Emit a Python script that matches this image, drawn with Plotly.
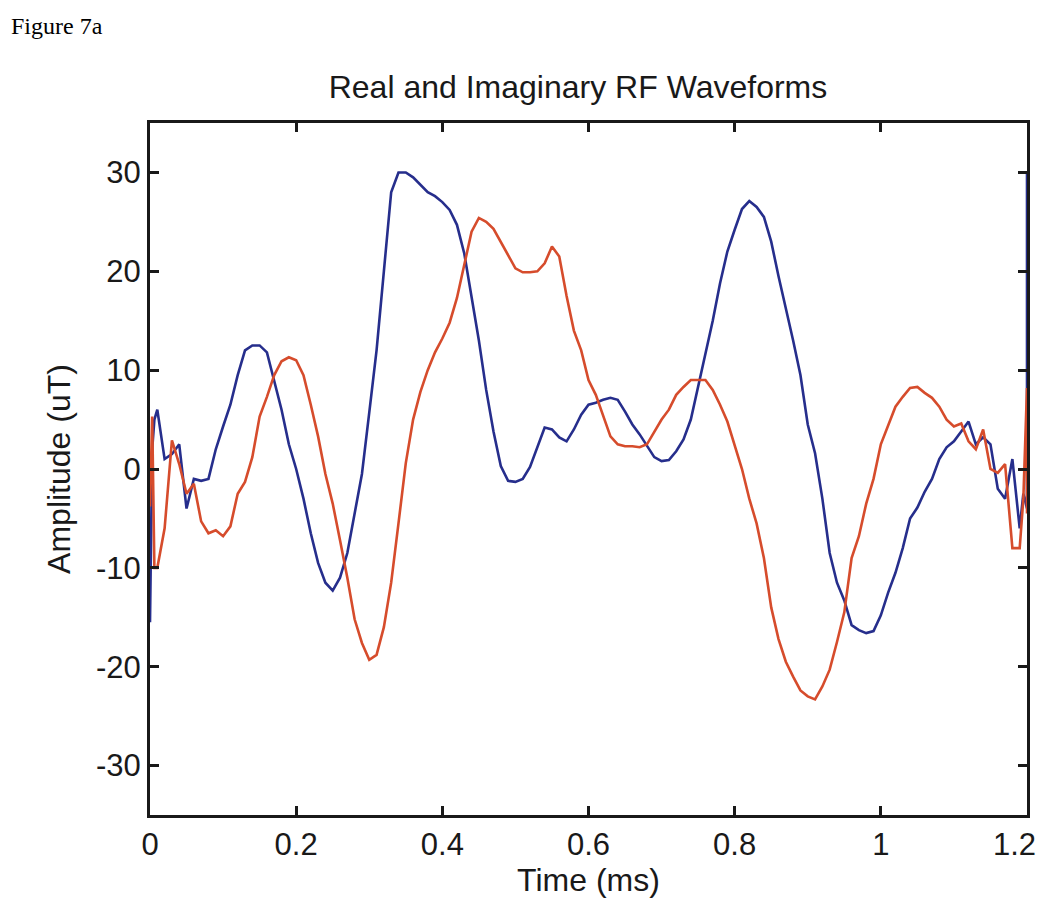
import plotly.graph_objects as go

# time base (ms), with a few extra points at the edges where the traces spike
time_ms = [0.0, 0.003, 0.006, 0.01, 0.02, 0.03, 0.04, 0.05, 0.06, 0.07, 0.08, 0.09,
           0.10, 0.11, 0.12, 0.13, 0.14, 0.15, 0.16, 0.17, 0.18, 0.19,
           0.20, 0.21, 0.22, 0.23, 0.24, 0.25, 0.26, 0.27, 0.28, 0.29,
           0.30, 0.31, 0.32, 0.33, 0.34, 0.35, 0.36, 0.37, 0.38, 0.39,
           0.40, 0.41, 0.42, 0.43, 0.44, 0.45, 0.46, 0.47, 0.48, 0.49,
           0.50, 0.51, 0.52, 0.53, 0.54, 0.55, 0.56, 0.57, 0.58, 0.59,
           0.60, 0.61, 0.62, 0.63, 0.64, 0.65, 0.66, 0.67, 0.68, 0.69,
           0.70, 0.71, 0.72, 0.73, 0.74, 0.75, 0.76, 0.77, 0.78, 0.79,
           0.80, 0.81, 0.82, 0.83, 0.84, 0.85, 0.86, 0.87, 0.88, 0.89,
           0.90, 0.91, 0.92, 0.93, 0.94, 0.95, 0.96, 0.97, 0.98, 0.99,
           1.00, 1.01, 1.02, 1.03, 1.04, 1.05, 1.06, 1.07, 1.08, 1.09,
           1.10, 1.11, 1.12, 1.13, 1.14, 1.15, 1.16, 1.17, 1.18, 1.19,
           1.195, 1.2, 1.2]

# real part (blue), uT
real_ut = [-15.5, 2.0, 5.0, 6.0, 1.0, 1.5, 2.5, -4.0, -1.0, -1.2, -1.0, 2.0,
           4.3, 6.5, 9.5, 12.0, 12.5, 12.5, 11.8, 9.0, 6.0, 2.5,
           0.0, -3.0, -6.5, -9.5, -11.5, -12.3, -11.0, -8.5, -4.5, -0.5,
           5.7, 12.0, 20.0, 28.0, 30.0, 30.0, 29.5, 28.8, 28.0, 27.6,
           27.0, 26.2, 24.7, 21.8, 17.3, 13.0, 8.0, 3.8, 0.3, -1.2,
           -1.3, -1.0, 0.2, 2.2, 4.2, 4.0, 3.2, 2.8, 4.0, 5.5,
           6.5, 6.7, 7.0, 7.2, 7.0, 5.8, 4.5, 3.5, 2.3, 1.2,
           0.8, 0.9, 1.8, 3.0, 5.0, 8.3, 11.4, 15.0, 18.8, 22.0,
           24.2, 26.3, 27.1, 26.5, 25.5, 23.0, 19.5, 16.3, 13.0, 9.5,
           4.5, 1.6, -3.0, -8.5, -11.5, -13.3, -15.8, -16.3, -16.6, -16.4,
           -14.8, -12.5, -10.5, -8.0, -5.0, -3.9, -2.3, -1.0, 1.0, 2.2,
           2.8, 3.8, 4.8, 2.5, 3.2, 2.5, -2.0, -3.0, 1.0, -6.0,
           -2.5, -4.0, 30.0]

# imaginary part (red), uT
imag_ut = [-3.8, 5.3, -10.0, -10.0, -6.0, 2.9, 0.5, -2.5, -1.5, -5.3, -6.5, -6.2,
           -6.8, -5.8, -2.5, -1.3, 1.2, 5.3, 7.3, 9.5, 10.9, 11.3,
           11.0, 9.5, 6.5, 3.3, -0.5, -3.5, -7.2, -11.0, -15.2, -17.6,
           -19.3, -18.8, -16.0, -11.5, -5.5, 0.6, 5.0, 7.8, 10.0, 11.8,
           13.2, 14.8, 17.3, 20.5, 24.0, 25.4, 25.0, 24.3, 23.0, 21.6,
           20.3, 19.9, 19.9, 20.0, 20.8, 22.5, 21.5, 17.5, 14.0, 12.0,
           9.0, 7.5, 5.5, 3.3, 2.5, 2.3, 2.3, 2.2, 2.5, 3.8,
           5.0, 6.0, 7.5, 8.3, 9.0, 9.0, 9.0, 8.0, 6.5, 4.8,
           2.3, 0.0, -3.0, -5.5, -9.0, -14.0, -17.2, -19.5, -21.0, -22.4,
           -23.0, -23.3, -22.0, -20.3, -17.5, -14.5, -9.0, -6.8, -3.5, -1.0,
           2.5, 4.5, 6.3, 7.3, 8.2, 8.3, 7.7, 7.2, 6.3, 5.0,
           4.3, 4.6, 2.8, 2.0, 4.0, 0.0, -0.4, 0.5, -8.0, -8.0,
           -3.0, 8.2, -4.5]

x_ticks = [0, 0.2, 0.4, 0.6, 0.8, 1, 1.2]
x_labels = ["0", "0.2", "0.4", "0.6", "0.8", "1", "1.2"]
y_ticks = [-30, -20, -10, 0, 10, 20, 30]
y_labels = ["-30", "-20", "-10", "0", "10", "20", "30"]

font = "Liberation Sans, Arial, Helvetica, sans-serif"
ink = "rgb(25,25,25)"

fig = go.Figure()
fig.add_trace(go.Scatter(x=time_ms, y=real_ut, mode="lines",
                         line=dict(color="rgb(38,46,140)", width=2.6)))
fig.add_trace(go.Scatter(x=time_ms, y=imag_ut, mode="lines",
                         line=dict(color="rgb(214,76,44)", width=2.6)))

axis_style = dict(showline=True, linecolor=ink, linewidth=3, mirror="allticks",
                  ticks="inside", ticklen=9, tickwidth=3, tickcolor=ink,
                  showgrid=False, zeroline=False,
                  tickfont=dict(family=font, size=31, color=ink))

# the last x label would run past the page edge, so it is drawn as a note pinned to the right
fig.update_xaxes(range=[0, 1.2], tickvals=x_ticks, ticktext=x_labels[:-1] + [""],
                 title=dict(text="Time (ms)", font=dict(family=font, size=32, color=ink),
                            standoff=6),
                 **axis_style)
fig.update_yaxes(range=[-35, 35], tickvals=y_ticks, ticktext=y_labels,
                 title=dict(text="Amplitude (uT)", font=dict(family=font, size=32, color=ink),
                            standoff=16),
                 **axis_style)

# the page adds an 8 px body margin, so the figure is a bit smaller than the window
fig.update_layout(
    width=1034, height=899,
    margin=dict(l=142, r=12, t=115, b=92),
    paper_bgcolor="white", plot_bgcolor="white",
    showlegend=False,
    title=dict(text="Real and Imaginary RF Waveforms", x=0.488, xref="paper", xanchor="center",
               y=0.912, yanchor="middle",
               font=dict(family=font, size=32, color=ink)),
    annotations=[
        dict(text="Figure 7a", xref="paper", yref="paper", x=-0.161, y=1.14,
             xanchor="left", yanchor="middle", showarrow=False,
             font=dict(family="Liberation Serif, Times New Roman, serif", size=24,
                       color="black")),
        dict(text=x_labels[-1], xref="paper", yref="paper", x=1.0, y=0,
             xanchor="right", yanchor="middle", xshift=11, yshift=-29, showarrow=False,
             font=dict(family=font, size=31, color=ink)),
    ],
)

fig.write_html("out.html")
